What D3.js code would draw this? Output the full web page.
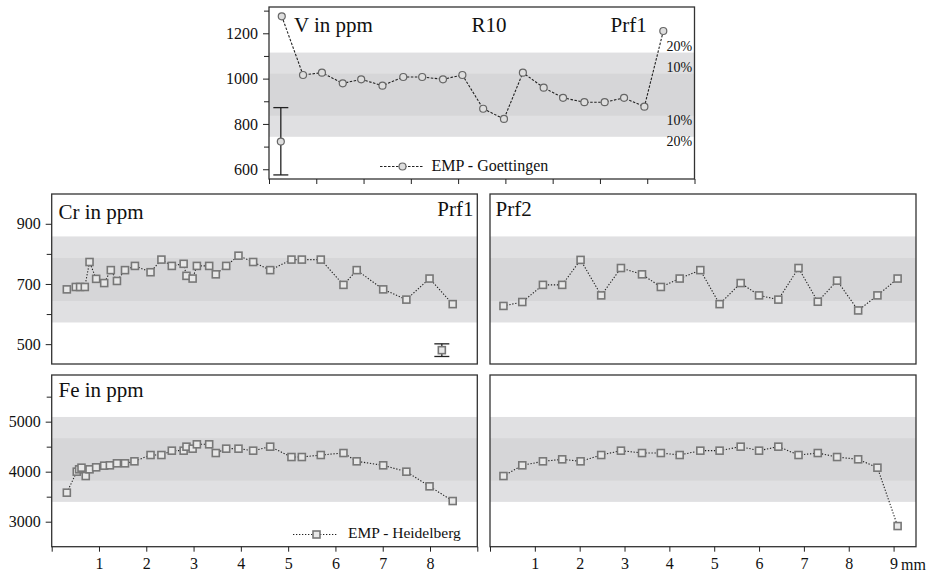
<!DOCTYPE html>
<html>
<head>
<meta charset="utf-8">
<script src="https://cdn.jsdelivr.net/npm/d3@7"></script>
<style>
  body { margin: 0; background: #fff; }
</style>
</head>
<body>
<svg></svg>
<script>
// ---- data (positions along profile in mm, concentrations in ppm) ----
const vX   = [0.27, 0.72, 1.12, 1.56, 1.95, 2.40, 2.84, 3.24, 3.68, 4.09, 4.53, 4.97, 5.37, 5.81, 6.22, 6.67, 7.10, 7.51, 7.94, 8.34];
const vVal = [1275, 1016, 1026, 979, 997, 969, 1007, 1007, 997, 1016, 867, 822, 1026, 960, 915, 896, 896, 915, 876, 1210];
const vErrX = [0.25], vErrVal = [722], vErrLo = [575], vErrHi = [872];

const crLX   = [0.32, 0.51, 0.60, 0.70, 0.80, 0.94, 1.11, 1.25, 1.38, 1.55, 1.76, 2.09, 2.32, 2.54, 2.79, 2.85, 2.98, 3.07, 3.33, 3.47, 3.69, 3.95, 4.26, 4.62, 5.07, 5.29, 5.69, 6.17, 6.45, 7.01, 7.50, 7.99, 8.48];
const crLVal = [682, 690, 690, 690, 773, 717, 703, 746, 710, 746, 760, 739, 781, 760, 767, 727, 718, 760, 760, 732, 760, 794, 773, 746, 781, 781, 781, 697, 746, 682, 648, 718, 633];
const crErrX = [8.25], crErrVal = [480], crErrLo = [459], crErrHi = [501];

const feLX   = [0.32, 0.53, 0.58, 0.63, 0.72, 0.80, 0.94, 1.11, 1.23, 1.38, 1.55, 1.75, 2.09, 2.32, 2.54, 2.79, 2.85, 2.98, 3.07, 3.33, 3.47, 3.69, 3.95, 4.26, 4.62, 5.07, 5.29, 5.69, 6.17, 6.45, 7.01, 7.50, 7.99, 8.48];
const feLVal = [3580, 4000, 4047, 4080, 3913, 4047, 4087, 4120, 4127, 4167, 4167, 4207, 4333, 4333, 4420, 4420, 4500, 4460, 4547, 4547, 4373, 4460, 4460, 4420, 4500, 4293, 4293, 4333, 4373, 4207, 4127, 4000, 3707, 3413];

const prf2X  = [0.30, 0.72, 1.18, 1.61, 2.02, 2.48, 2.92, 3.39, 3.81, 4.23, 4.69, 5.12, 5.59, 6.00, 6.43, 6.88, 7.31, 7.74, 8.21, 8.64, 9.09];
const crRVal = [627, 640, 697, 697, 780, 662, 753, 732, 690, 718, 746, 633, 703, 662, 648, 753, 641, 711, 612, 662, 718];
const feRVal = [3913, 4127, 4207, 4247, 4207, 4333, 4420, 4373, 4373, 4333, 4420, 4420, 4500, 4420, 4500, 4333, 4373, 4293, 4247, 4080, 2913];

// reference values for the +-10% / +-20% bands
const vRef = 929, crRef = 715, feRef = 4245;
const bandPct = [0.2, 0.1];

// tick values
const vTicks = [600, 800, 1000, 1200], vMinor = [700, 900, 1100, 1300];
const crTicks = [500, 700, 900], crMinor = [600, 800];
const feTicks = [3000, 4000, 5000], feMinor = [3500, 4500, 5500];
const mmTicks = [0, 1, 2, 3, 4, 5, 6, 7, 8, 9];

// ---- drawing ----
const FONT = '"Liberation Serif", "Times New Roman", serif';
const svg = d3.select("svg").attr("width", 930).attr("height", 572)
    .attr("font-family", FONT);

function makePanel(p) {
    const x = d3.scaleLinear().domain(p.xDomain).range([p.left, p.right]);
    const y = d3.scaleLinear().domain(p.yDomain).range([p.bottom, p.top]);
    const g = svg.append("g");
    const bands = bandPct.map((b, i) => ({ lo: p.ref * (1 - b), hi: p.ref * (1 + b), fill: i === 0 ? "#e0e0e2" : "#d6d6d8" }));
    g.selectAll("rect.band").data(bands).join("rect")
        .attr("class", "band")
        .attr("x", p.left).attr("width", p.right - p.left)
        .attr("y", d => y(d.hi)).attr("height", d => y(d.lo) - y(d.hi))
        .attr("fill", d => d.fill);
    g.append("rect")
        .attr("x", p.left).attr("y", p.top)
        .attr("width", p.right - p.left).attr("height", p.bottom - p.top)
        .attr("fill", "none").attr("stroke", "#333").attr("stroke-width", 1.3);
    return { x, y, g, p };
}

function markers(g, pts, shape) {
    if (shape === "circle") {
        g.selectAll(null).data(pts).join("circle")
            .attr("cx", d => d[0]).attr("cy", d => d[1]).attr("r", 3.5)
            .attr("fill", "#dedede").attr("stroke", "#666").attr("stroke-width", 1.2);
    } else {
        g.selectAll(null).data(pts).join("rect")
            .attr("x", d => d[0] - 3.5).attr("y", d => d[1] - 3.5)
            .attr("width", 7).attr("height", 7)
            .attr("fill", "#e8e8e8").attr("stroke", "#777").attr("stroke-width", 1.6);
    }
}

function series(P, xs, vs, shape, dash) {
    const pts = xs.map((d, i) => [P.x(d), P.y(vs[i])]);
    P.g.append("path").datum(pts)
        .attr("d", d3.line())
        .attr("fill", "none").attr("stroke", "#222").attr("stroke-width", 1.1)
        .attr("stroke-dasharray", dash);
    markers(P.g, pts, shape);
}

function errorBar(P, xs, vs, lo, hi, shape) {
    xs.forEach((xv, i) => {
        const cx = P.x(xv);
        const g = P.g.append("g").attr("stroke", "#222").attr("stroke-width", 1.3);
        g.append("line").attr("x1", cx).attr("x2", cx).attr("y1", P.y(lo[i])).attr("y2", P.y(hi[i]));
        [lo[i], hi[i]].forEach(v => {
            g.append("line").attr("x1", cx - 7.5).attr("x2", cx + 7.5).attr("y1", P.y(v)).attr("y2", P.y(v));
        });
        markers(P.g, [[cx, P.y(vs[i])]], shape);
    });
}

function styleAxis(g) {
    g.attr("font-family", FONT).attr("font-size", 16).style("color", "#222");
    g.select(".domain").remove();
    g.selectAll("text").attr("fill", "#111");
}

function yAxis(P, major, minor) {
    svg.append("g").attr("transform", `translate(${P.p.left},0)`)
        .call(d3.axisLeft(P.y).tickValues(minor).tickSize(5).tickFormat(""))
        .call(styleAxis);
    svg.append("g").attr("transform", `translate(${P.p.left},0)`)
        .call(d3.axisLeft(P.y).tickValues(major).tickSize(6).tickPadding(5).tickFormat(d3.format("d")))
        .call(styleAxis);
}

function xAxis(P, labels) {
    svg.append("g").attr("transform", `translate(0,${P.p.bottom})`)
        .call(d3.axisBottom(P.x).tickValues(mmTicks).tickSize(5).tickPadding(6)
            .tickFormat(d => labels.includes(d) ? d : ""))
        .call(styleAxis);
}

function label(P, txt, x, y, size, anchor) {
    P.g.append("text").attr("x", x).attr("y", y)
        .attr("font-family", FONT)
        .attr("font-size", size).attr("text-anchor", anchor || "start")
        .attr("fill", "#111").text(txt);
}

// --- V panel (top) ---
const V = makePanel({ left: 269, right: 694.5, top: 7, bottom: 179, xDomain: [0, 9], yDomain: [557, 1316], ref: vRef });
errorBar(V, vErrX, vErrVal, vErrLo, vErrHi, "circle");
series(V, vX, vVal, "circle", "2.5,1.5");
yAxis(V, vTicks, vMinor);
xAxis(V, []);
label(V, "V in ppm", 294, 32, 21);
label(V, "R10", 471.5, 32, 21);
label(V, "Prf1", 610.5, 32, 21);
bandPct.forEach(b => {
    label(V, Math.round(b * 100) + "%", 666.5, V.y(vRef * (1 + b)) - 2, 14);
    label(V, Math.round(b * 100) + "%", 666.5, V.y(vRef * (1 - b)) + 9.5, 14);
});
// legend
V.g.append("line").attr("x1", 380).attr("x2", 423).attr("y1", 166.5).attr("y2", 166.5)
    .attr("stroke", "#222").attr("stroke-width", 1.1).attr("stroke-dasharray", "2.5,1.5");
markers(V.g, [[402.5, 166.5]], "circle");
label(V, "EMP - Goettingen", 431.5, 171, 16);

// --- Cr panels ---
const CrL = makePanel({ left: 51.7, right: 477.3, top: 194, bottom: 364, xDomain: [0, 9], yDomain: [434, 999], ref: crRef });
series(CrL, crLX, crLVal, "square", "1.3,1.7");
errorBar(CrL, crErrX, crErrVal, crErrLo, crErrHi, "square");
yAxis(CrL, crTicks, crMinor);
label(CrL, "Cr in ppm", 58.5, 219, 21);
label(CrL, "Prf1", 473.5, 216, 21, "end");

const CrR = makePanel({ left: 490, right: 916, top: 194, bottom: 364, xDomain: [0, 9.5], yDomain: [434, 999], ref: crRef });
series(CrR, prf2X, crRVal, "square", "1.3,1.7");
label(CrR, "Prf2", 495.5, 216, 21);

// --- Fe panels ---
const FeL = makePanel({ left: 51.7, right: 477.3, top: 375, bottom: 546.7, xDomain: [0, 9], yDomain: [2500, 5933], ref: feRef });
series(FeL, feLX, feLVal, "square", "1.3,1.7");
yAxis(FeL, feTicks, feMinor);
xAxis(FeL, [1, 2, 3, 4, 5, 6, 7, 8]);
label(FeL, "Fe in ppm", 58.5, 397, 21);
FeL.g.append("line").attr("x1", 293).attr("x2", 338).attr("y1", 534.5).attr("y2", 534.5)
    .attr("stroke", "#222").attr("stroke-width", 1.1).attr("stroke-dasharray", "1.3,1.7");
markers(FeL.g, [[316.5, 534.5]], "square");
label(FeL, "EMP - Heidelberg", 348, 537.5, 15.5);

const FeR = makePanel({ left: 490, right: 916, top: 375, bottom: 546.7, xDomain: [0, 9.5], yDomain: [2500, 5933], ref: feRef });
series(FeR, prf2X, feRVal, "square", "1.3,1.7");
xAxis(FeR, [1, 2, 3, 4, 5, 6, 7, 8, 9]);
label(FeR, "mm", FeR.x(9) + 7.5, 569.5, 16);
</script>
</body>
</html>
